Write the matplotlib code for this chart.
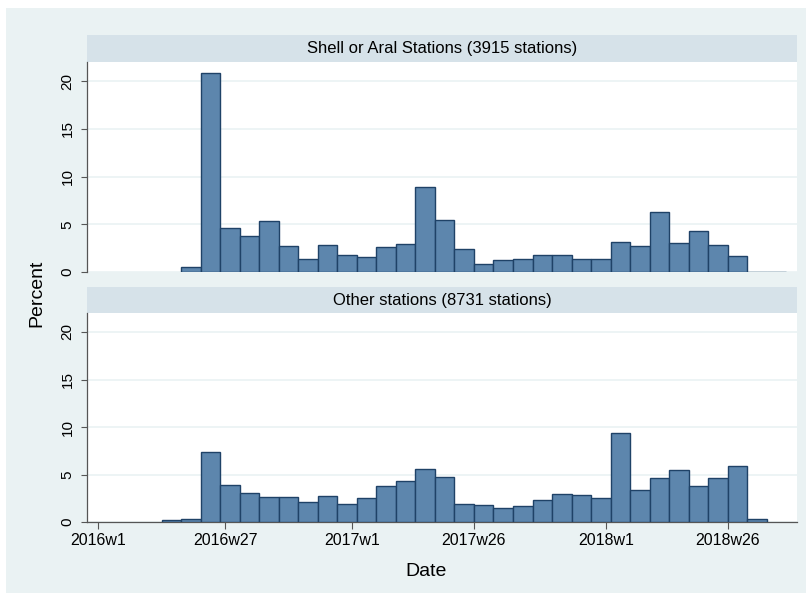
import matplotlib
matplotlib.use("Agg")
import numpy as np
from matplotlib import pyplot as plt
from matplotlib.patches import Rectangle

plt.rcParams['font.family'] = ['Liberation Sans', 'DejaVu Sans']

# bins: 4-week bins starting at Stata week 2925 (2016w14)
bin_start = 2925
bin_width = 4
shell_pct = [0, 0.56, 20.9, 4.57, 3.8, 5.37, 2.72, 1.40, 2.83, 1.75, 1.54, 2.62, 2.93,
             8.94, 5.44, 2.41, 0.87, 1.29, 1.40, 1.75, 1.75, 1.40, 1.40, 3.18, 2.69,
             6.32, 3.07, 4.26, 2.83, 1.64, 0.05, 0.04]
other_pct = [0.17, 0.3, 7.39, 3.87, 3.03, 2.65, 2.65, 2.13, 2.75, 1.92, 2.54, 3.83, 4.32,
             5.61, 4.74, 1.92, 1.78, 1.50, 1.67, 2.33, 3.0, 2.89, 2.54, 9.34, 3.41,
             4.6, 5.5, 3.83, 4.6, 5.92, 0.28, 0]
panel_titles = ["Shell or Aral Stations (3915 stations)", "Other stations (8731 stations)"]
xtick_pos = [2912, 2938, 2964, 2989, 3016, 3041]
xtick_lab = ["2016w1", "2016w27", "2017w1", "2017w26", "2018w1", "2018w26"]
ytick_pos = [0, 5, 10, 15, 20]

bg = '#eaf2f3'
strip = '#d6e2e9'
bar_fill = '#5d86ad'
bar_edge = '#1f4267'
axis_col = '#555555'

W, H = 812, 598
fig = plt.figure(figsize=(W / 100, H / 100), dpi=100, facecolor='white')
fig.patches.append(Rectangle((6 / W, 5 / H), 800 / W, 585 / H, transform=fig.transFigure,
                             facecolor=bg, edgecolor='none', zorder=-10))

def px_axes(left, top, right, bottom):
    return [left / W, (H - bottom) / H, (right - left) / W, (bottom - top) / H]

edges = bin_start + bin_width * np.arange(len(shell_pct))
layout = [((87, 62, 797, 272), (87, 35, 797, 62)),
          ((87, 313, 797, 522), (87, 287, 797, 313))]

for i, (vals, title) in enumerate(zip([shell_pct, other_pct], panel_titles)):
    plot_box, strip_box = layout[i]
    sa = fig.add_axes(px_axes(*strip_box))
    sa.set_facecolor(strip)
    sa.set_xticks([]); sa.set_yticks([])
    for s in sa.spines.values():
        s.set_visible(False)
    sa.text(0.5, 0.5, title, ha='center', va='center', fontsize=12, transform=sa.transAxes)

    ax = fig.add_axes(px_axes(*plot_box))
    ax.set_facecolor('white')
    lw = [1.0 if v > 0 else 0 for v in vals]
    ax.bar(edges, vals, width=bin_width, align='edge', color=bar_fill,
           edgecolor=bar_edge, linewidth=lw, zorder=3)
    ax.set_xlim(2909.7, 3055.2)
    ax.set_ylim(0, 22)
    ax.set_yticks(ytick_pos)
    ax.set_yticklabels([str(v) for v in ytick_pos], rotation=90, va='center')
    ax.yaxis.grid(True, color=bg, linewidth=1.2, zorder=0)
    ax.tick_params(axis='y', direction='out', length=4, width=0.8, color=axis_col,
                   labelsize=11, pad=5)
    for s in ['top', 'right']:
        ax.spines[s].set_visible(False)
    ax.spines['left'].set_color(axis_col)
    ax.spines['left'].set_linewidth(0.9)
    if i == 0:
        ax.spines['bottom'].set_visible(False)
        ax.set_xticks([])
    else:
        ax.spines['bottom'].set_color(axis_col)
        ax.spines['bottom'].set_linewidth(0.9)
        ax.set_xticks(xtick_pos)
        ax.set_xticklabels(xtick_lab)
        ax.tick_params(axis='x', direction='out', length=5, width=0.8, color=axis_col,
                       labelsize=11.5, pad=3)

fig.text(37 / W, 1 - 293 / H, "Percent", rotation=90, ha='center', va='center', fontsize=14)
fig.text(426 / W, 1 - 572 / H, "Date", ha='center', va='center', fontsize=14)

fig.savefig("out.png", dpi=100, facecolor='white')
